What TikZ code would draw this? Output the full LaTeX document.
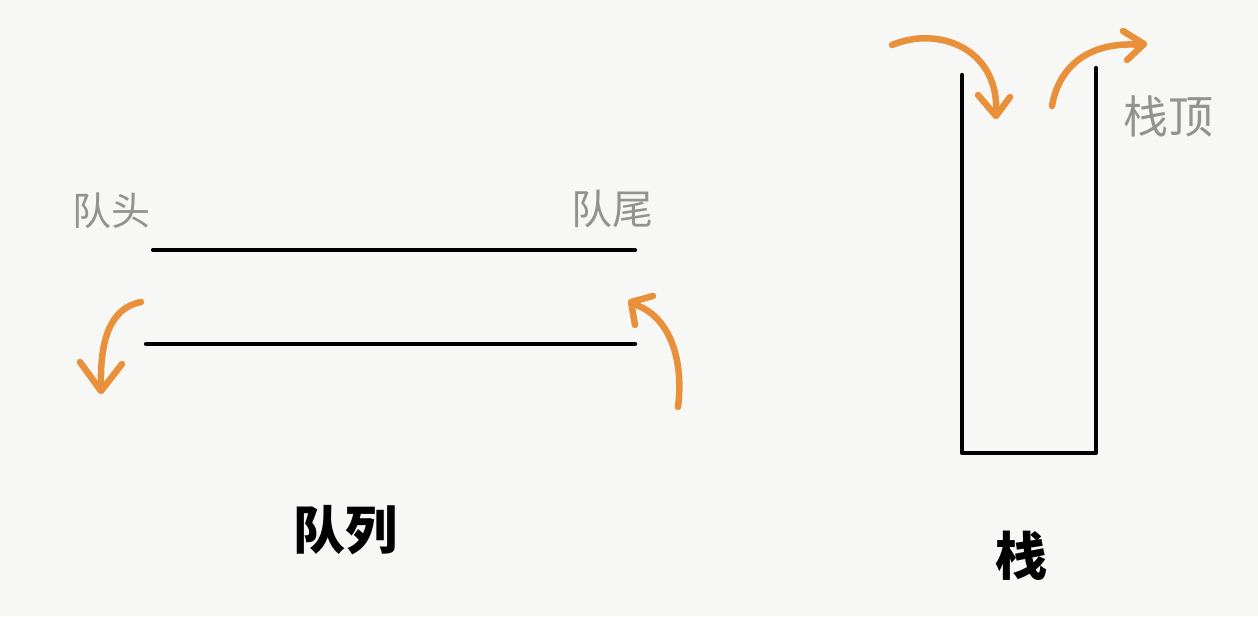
\documentclass[tikz,border=0pt]{standalone}
\usepackage{fontspec}
\newfontfamily\cjk{Noto Sans CJK SC}
\usetikzlibrary{calc}
\definecolor{bg}{HTML}{F7F7F5}
\definecolor{orng}{HTML}{E8913A}
\definecolor{lbl}{HTML}{929292}
\tikzset{
  wall/.style={line width=4.2pt, black, line cap=round, line join=round},
  swoosh/.style={line width=6.5pt, orng, line cap=round, line join=round},
  lab/.style={text=lbl, font=\cjk\fontsize{#1}{#1}\selectfont, inner sep=0pt},
  ttl/.style={text=black, font=\cjk\bfseries\fontsize{52}{52}\selectfont, inner sep=0pt}
}
\begin{document}
\begin{tikzpicture}[x=1pt,y=-1pt]
\fill[bg] (0,0) rectangle (1258,616);
\useasboundingbox (0,0) rectangle (1258,616);
% queue
\coordinate (qtl) at (153,250);
\coordinate (qtr) at (635,250);
\coordinate (qbl) at (146,344);
\coordinate (qbr) at (635,344);
\draw[wall] (qtl) -- (qtr);
\draw[wall] (qbl) -- (qbr);
\node[lab=39] (head) at (111,211) {队头};
\node[lab=41] (tail) at (612,209) {队尾};
\node[ttl] (qname) at (345,530) {队列};
% left arrow (out of queue head)
\coordinate (la0) at (141,302);
\coordinate (la1) at (101,386);
\draw[swoosh] (la0) .. controls (110,308) and (100,340) .. (la1);
\draw[swoosh] (80,362) -- (101,391) -- (122,364);
% right arrow (into queue tail)
\coordinate (ra0) at (678,407);
\coordinate (ra1) at (633,304);
\draw[swoosh] (ra0) .. controls (684,360) and (670,315) .. (ra1);
\draw[swoosh] (653,296) -- (631,302) -- (635,325);
% stack
\coordinate (sl) at (962,75);
\coordinate (sbl) at (962,453);
\coordinate (sbr) at (1096,453);
\coordinate (sr) at (1096,68);
\draw[wall] (sl) -- (sbl) -- (sbr) -- (sr);
\node[lab=45] (top) at (1168,116) {栈顶};
\node[ttl] (sname) at (1021,556) {栈};
% push arrow
\coordinate (pa0) at (892,45);
\coordinate (pa1) at (996,114);
\draw[swoosh] (pa0) .. controls (940,25) and (1000,50) .. (pa1);
\draw[swoosh] (978,95) -- (996,116) -- (1010,97);
% pop arrow
\coordinate (po0) at (1052,106);
\coordinate (po1) at (1143,45);
\draw[swoosh] (po0) .. controls (1058,70) and (1085,40) .. (po1);
\draw[swoosh] (1123,31) -- (1144,44) -- (1127,60);
\end{tikzpicture}
\end{document}
